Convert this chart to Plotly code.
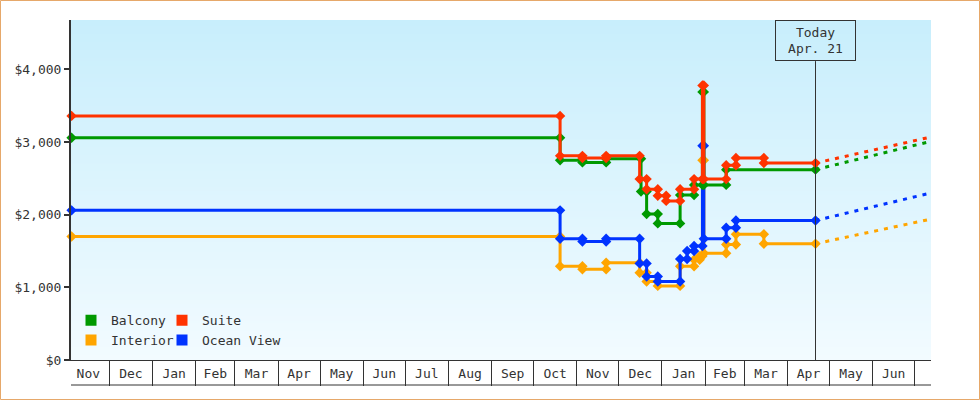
import base64, struct, zlib
import plotly.graph_objects as go

# ---------------- data ----------------
TODAY = "2023-04-21"
PROJ_END = "2023-07-12 18:00"
X_START = "2021-11-03 14:00"

balcony_dates = ["2021-11-04", "2022-10-20", "2022-11-05", "2022-11-22", "2022-12-17",
                 "2022-12-21", "2022-12-29", "2023-01-14", "2023-01-24", "2023-01-30",
                 "2023-01-31", "2023-02-16"]
balcony_vals = [3060, 2750, 2720, 2770, 2320, 2010, 1880, 2270, 2410, 3690, 2410, 2620]

suite_dates = ["2021-11-04", "2022-10-20", "2022-11-05", "2022-11-22", "2022-12-16",
               "2022-12-21", "2022-12-29", "2023-01-04", "2023-01-14", "2023-01-24",
               "2023-01-30", "2023-01-31", "2023-02-16", "2023-02-23", "2023-03-15"]
suite_vals = [3360, 2810, 2780, 2810, 2490, 2350, 2260, 2190, 2350, 2490, 3780, 2490,
              2680, 2780, 2710]

ocean_dates = ["2021-11-04", "2022-10-20", "2022-11-05", "2022-11-22", "2022-12-16",
               "2022-12-21", "2022-12-29", "2023-01-14", "2023-01-19", "2023-01-24",
               "2023-01-30", "2023-01-31", "2023-02-16", "2023-02-23"]
ocean_vals = [2060, 1670, 1630, 1670, 1330, 1150, 1080, 1390, 1500, 1570, 2950, 1670,
              1820, 1920]

interior_dates = ["2021-11-04", "2022-10-20", "2022-11-05", "2022-11-22", "2022-12-16",
                  "2022-12-21", "2022-12-29", "2023-01-14", "2023-01-24", "2023-01-28",
                  "2023-01-30", "2023-01-31", "2023-02-16", "2023-02-23", "2023-03-15"]
interior_vals = [1700, 1290, 1250, 1340, 1200, 1080, 1020, 1290, 1380, 1430, 2750, 1470,
                 1590, 1730, 1600]

projection_end = {"Balcony": 3010, "Suite": 3070, "Interior": 1940, "Ocean View": 2300}

y_ticks = [0, 1000, 2000, 3000, 4000]
y_tick_labels = ["$" + format(v, ",d") for v in y_ticks]

colors = {"Balcony": "#009900", "Suite": "#ff3300", "Interior": "#ffa500",
          "Ocean View": "#0033ff"}

FONT = "DejaVu Sans Mono"
INK = "#333333"


def steps(dates, vals, end):
    xs, ys = [], []
    for i, (d, v) in enumerate(zip(dates, vals)):
        e = dates[i + 1] if i + 1 < len(dates) else end
        xs += [d, e]
        ys += [v, v]
    return xs, ys


def gradient_png(top, bottom, h=256, w=4):
    rows = b""
    for r in range(h):
        t = r / (h - 1)
        px = bytes(int(round(top[k] + (bottom[k] - top[k]) * t)) for k in range(3))
        rows += b"\x00" + px * w
    def chunk(tag, data):
        c = struct.pack(">I", len(data)) + tag + data
        return c + struct.pack(">I", zlib.crc32(tag + data) & 0xffffffff)
    png = b"\x89PNG\r\n\x1a\n"
    png += chunk(b"IHDR", struct.pack(">IIBBBBB", w, h, 8, 2, 0, 0, 0))
    png += chunk(b"IDAT", zlib.compress(rows))
    png += chunk(b"IEND", b"")
    return "data:image/png;base64," + base64.b64encode(png).decode()


series = [
    ("Interior", interior_dates, interior_vals),
    ("Ocean View", ocean_dates, ocean_vals),
    ("Balcony", balcony_dates, balcony_vals),
    ("Suite", suite_dates, suite_vals),
]

fig = go.Figure()

# projections (dotted)
for name, d, v in series:
    fig.add_trace(go.Scatter(
        x=[TODAY, PROJ_END], y=[v[-1], projection_end[name]], mode="lines",
        line=dict(color=colors[name], width=3, dash="4px,6px"),
        showlegend=False, hoverinfo="skip"))

for name, d, v in series:
    xs, ys = steps(d, v, TODAY)
    fig.add_trace(go.Scatter(
        x=xs, y=ys, mode="lines+markers", name=name,
        line=dict(color=colors[name], width=3),
        marker=dict(symbol="diamond", size=8, color=colors[name]),
        cliponaxis=False, showlegend=False, hoverinfo="skip"))

# legend entries (square swatches)
for name, lg in [("Balcony", "legend"), ("Interior", "legend"),
                 ("Suite", "legend2"), ("Ocean View", "legend2")]:
    fig.add_trace(go.Scatter(
        x=[None], y=[None], mode="markers", name=name, legend=lg,
        marker=dict(symbol="square", size=11, color=colors[name])))

fig.add_annotation(
    x=TODAY, xref="x", y=1, yref="paper", yanchor="top", showarrow=False,
    text="Today<br>Apr. 21", font=dict(family=FONT, size=13, color=INK),
    bordercolor=INK, borderwidth=1, borderpad=0, width=79, height=39,
    bgcolor="rgba(0,0,0,0)", align="center")

fig.add_shape(type="line", xref="x", yref="paper", x0=TODAY, x1=TODAY, y0=0, y1=0.879,
              line=dict(color=INK, width=1))
# bottom line of month table
fig.add_shape(type="line", xref="paper", yref="paper", x0=0, x1=1,
              y0=-25 / 340, y1=-25 / 340, line=dict(color=INK, width=1))
# outer frame
fig.add_shape(type="rect", xref="paper", yref="paper",
              x0=(0.5 - 71) / 860, x1=(979.5 - 71) / 860,
              y0=(360 - 399.5) / 340, y1=(360 - 0.5) / 340,
              line=dict(color="#e6a86a", width=1))

fig.add_layout_image(dict(
    source=gradient_png((200, 238, 252), (242, 251, 255)),
    xref="paper", yref="paper", x=0, y=1, sizex=1, sizey=1,
    sizing="stretch", xanchor="left", yanchor="top", layer="below"))

fig.update_layout(
    width=980, height=400,
    margin=dict(l=71, r=49, t=20, b=40),
    paper_bgcolor="white", plot_bgcolor="rgba(0,0,0,0)",
    font=dict(family=FONT, size=13, color=INK),
    hovermode=False,
    legend=dict(x=(71 - 71) / 860, xanchor="left", y=0.014, yanchor="bottom",
                bgcolor="rgba(0,0,0,0)", font=dict(family=FONT, size=13, color=INK),
                tracegroupgap=0),
    legend2=dict(x=(162 - 71) / 860, xanchor="left", y=0.014, yanchor="bottom",
                 bgcolor="rgba(0,0,0,0)", font=dict(family=FONT, size=13, color=INK),
                 tracegroupgap=0),
    xaxis=dict(
        type="date", range=[X_START, PROJ_END], showgrid=False, zeroline=False,
        dtick="M1", tick0="2021-12-01", tickformat="%b", ticklabelmode="period",
        ticks="outside", ticklen=25, tickwidth=1, tickcolor=INK,
        ticklabelstandoff=-24,
        showline=True, linecolor=INK, linewidth=1,
        tickfont=dict(family=FONT, size=13, color=INK)),
    yaxis=dict(
        range=[0, 4680], showgrid=False, zeroline=False,
        tickmode="array", tickvals=y_ticks, ticktext=y_tick_labels,
        ticks="outside", ticklen=5, tickwidth=2, tickcolor=INK,
        showline=True, linecolor=INK, linewidth=2,
        tickfont=dict(family=FONT, size=13, color=INK)),
)

fig.write_html("out.html", config={"displayModeBar": False},
               post_script="document.body.style.margin='0px';")
